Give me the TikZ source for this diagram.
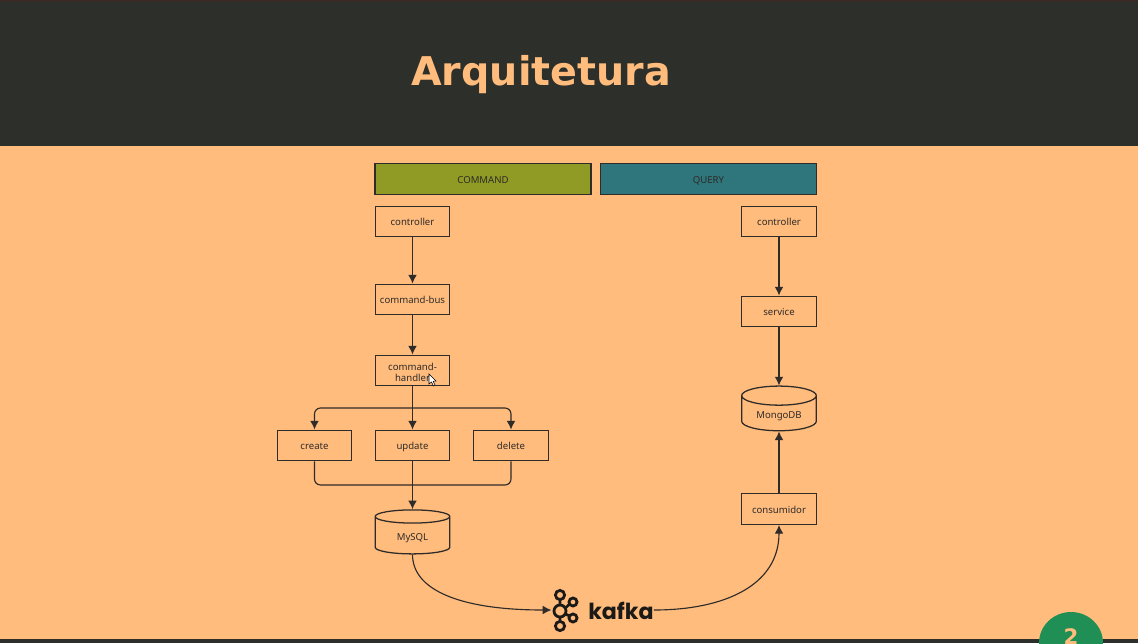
\documentclass[tikz,border=0pt]{standalone}
\usepackage{fontspec}
\setmainfont{Noto Sans}
\newfontfamily\titlefont{DejaVu Sans}
\newfontfamily\logofont{Poppins}
\usetikzlibrary{arrows.meta,shapes.geometric}
\definecolor{slidebg}{HTML}{FFBC7D}
\definecolor{slidebar}{HTML}{2D2F2A}
\definecolor{slidetop}{HTML}{3A2A26}
\definecolor{inkline}{HTML}{2F2B28}
\definecolor{logoink}{HTML}{1C1A17}
\definecolor{cmdfill}{HTML}{8F9B24}
\definecolor{queryfill}{HTML}{2E757C}
\definecolor{pagegreen}{HTML}{1F8F55}
\tikzset{
	boxnode/.style={draw=inkline, line width=0.95pt, minimum width=56pt, minimum height=23pt, inner sep=0pt, text=inkline, font=\fontsize{7.2}{8.6}\selectfont, align=center, text width=52pt, execute at begin node={\rule[-1.56pt]{0pt}{9.56pt}}},
	headnode/.style={boxnode, minimum width=162pt, text width=150pt},
	dbnode/.style={cylinder, shape border rotate=90, aspect=0.42, draw=inkline, line width=0.95pt, minimum width=56pt, inner sep=0pt, text=inkline, font=\fontsize{7.2}{8.6}\selectfont, execute at begin node={\rule[-1pt]{0pt}{10pt}}},
	flow/.style={draw=inkline, line width=0.85pt, -{Latex[length=6.5pt,width=6.5pt]}},
	plainflow/.style={draw=inkline, line width=0.85pt},
	logoring/.style={draw=logoink, line width=2.1pt}
}
\begin{document}
\begin{tikzpicture}[x=0.75pt, y=-0.75pt]
	\useasboundingbox (0,0) rectangle (1138,643);
	\fill[slidebg] (0,0) rectangle (1138,643);
	\fill[slidebar] (0,0) rectangle (1138,145.5);
	\fill[slidetop] (0,0) rectangle (1138,2);
	\fill[slidebar] (0,639) rectangle (1138,643);
	\begin{scope}
		\clip (0,0) rectangle (1138,643);
		\fill[pagegreen] (1071,643) ellipse (32 and 31);
		\node[text=slidebg, font=\titlefont\bfseries\fontsize{16}{16}\selectfont] (pagenum) at (1071,637) {2};
	\end{scope}
	\node[text=slidebg, font=\titlefont\bfseries\fontsize{29.7}{30}\selectfont] (title) at (541,75) {Arquitetura};

	\node[headnode, fill=cmdfill] (command) at (483,179) {COMMAND};
	\node[headnode, fill=queryfill] (query) at (708.5,179) {QUERY};

	\node[boxnode] (ctrlleft) at (412.5,221.5) {controller};
	\node[boxnode] (bus) at (412.5,299.5) {command-bus};
	\node[boxnode, execute at begin node=\strut] (handler) at (412.5,370.5) {command-\\handler};
	\node[boxnode] (create) at (314.5,445.5) {create};
	\node[boxnode] (update) at (412.5,445.5) {update};
	\node[boxnode] (delete) at (511,445.5) {delete};
	\node[dbnode, minimum height=33pt] (mysql) at (412.5,535.5) {MySQL};

	\node[boxnode] (ctrlright) at (779,221.5) {controller};
	\node[boxnode] (service) at (779,311.5) {service};
	\node[dbnode, minimum height=33.5pt] (mongo) at (779,413.5) {MongoDB};
	\node[boxnode] (consumer) at (779,509) {consumidor};

	\node[minimum width=20pt, minimum height=31pt, inner sep=0pt] (kafkalogo) at (565,610) {};
	\node[inner sep=0pt, text=logoink, font=\logofont\bfseries\fontsize{16.6}{17}\selectfont, anchor=base west] (kafkaname) at (588,619) {kafka};
	\foreach \cx/\cy/\cr in {560/595/4.6, 560/626/4.6, 573/602/4, 573/618/4, 560/611/6}
		\draw[logoring] (\cx,\cy) circle (\cr);
	\draw[logoring] (560,600) -- (560,605) (560,617) -- (560,621) (565.5,608) -- (569.5,604) (565.5,614) -- (569.5,616);

	\coordinate (splitpoint) at (412.5,408);
	\coordinate (joinpoint) at (412.5,485);

	\draw[flow] (ctrlleft) -- (bus);
	\draw[flow] (bus) -- (handler);
	\draw[flow] (handler) -- (update);
	\draw[flow, rounded corners=4.5pt] (splitpoint) -| (create.north);
	\draw[flow, rounded corners=4.5pt] (splitpoint) -| (delete.north);
	\draw[plainflow, rounded corners=4.5pt] (create.south) |- (joinpoint);
	\draw[plainflow, rounded corners=4.5pt] (delete.south) |- (joinpoint);
	\draw[flow] (update) -- (mysql.top);
	\draw[flow] (mysql.bottom) .. controls (412.5,590) and (460,610) .. (kafkalogo.west);
	\draw[flow] (kafkaname.east |- kafkalogo.east) .. controls (725,610) and (779,585) .. (consumer.south);
	\draw[flow] (consumer) -- (mongo.bottom);
	\draw[flow] (service) -- (mongo.top);
	\draw[flow] (ctrlright) -- (service);

	\draw[fill=white, draw=black, line width=0.4pt] (429,374) -- (429,384) -- (431.5,382) -- (433.5,386) -- (435,385) -- (433.2,381.3) -- (436,381) -- cycle;
\end{tikzpicture}
\end{document}
